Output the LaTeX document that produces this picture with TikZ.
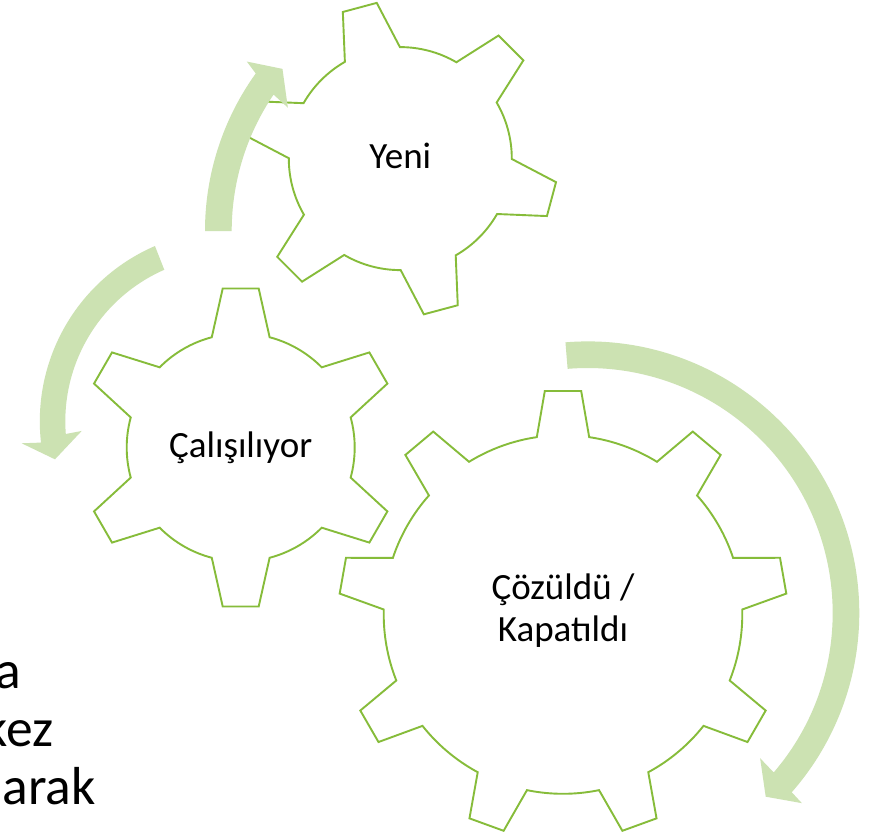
\documentclass[tikz,border=0pt]{standalone}
\usepackage{fontspec}
\setmainfont{Carlito}
\definecolor{geargreen}{RGB}{134,188,58}
\definecolor{arrowgreen}{RGB}{204,226,178}
\newcommand\drawgear[8]{%
  \pgfmathsetmacro\gearstep{360/#5}%
  \draw[gearline,shift={(#1,#2)}] ({#6-#8}:#4)
    \foreach \k in {1,...,#5}{
      -- ({#6+(\k-1)*\gearstep-#7}:#3)
      -- ({#6+(\k-1)*\gearstep+#7}:#3)
      -- ({#6+(\k-1)*\gearstep+#8}:#4)
      arc[start angle={#6+(\k-1)*\gearstep+#8}, end angle={#6+\k*\gearstep-#8}, radius=#4]
    } -- cycle;
}
\begin{document}
\begin{tikzpicture}[x=1pt,y=1pt,
  gearline/.style={draw=geargreen, line width=1.9pt, fill=white, line join=miter},
  arrowband/.style={fill=arrowgreen},
  lbl/.style={font=\fontsize{37}{44}\selectfont, anchor=base, inner sep=0pt, text=black},
  bodytext/.style={font=\fontsize{53.5}{58}\selectfont, anchor=base east, inner sep=0pt, text=black}]
\useasboundingbox (0,0) rectangle (892,-836);
\clip (0,0) rectangle (892,-836);
\fill[white] (0,0) rectangle (892,-836);

% gears
\drawgear{400.3}{-158.6}{157.5}{111.5}{6}{105}{6.4}{14.8}
\drawgear{240.7}{-447.5}{160}{114}{6}{90}{6.46}{14.7}
\drawgear{563}{-614.5}{224.3}{179.3}{9}{90}{4.65}{8.4}

% arrows
\fill[arrowband,shift={(475,-231)}] (180:270) arc[start angle=180,end angle=144.3,radius=270]
  -- (143.4:284.2) -- (139.9:251.7) -- (146.6:224.2) -- (145.9:243.3)
  arc[start angle=145.9,end angle=180,radius=243.3] -- cycle;
\fill[arrowband,shift={(230.8,-421.3)}] (113.4:191) arc[start angle=113.4,end angle=186.4,radius=191]
  -- (186:210.3) -- (192.2:179.9) -- (183.7:149.4) -- (184.4:165.5)
  arc[start angle=184.4,end angle=113.7,radius=165.5] -- cycle;
\fill[arrowband,shift={(587.7,-613)}] (94.7:271.6) arc[start angle=94.7,end angle=-41.3,radius=271.6]
  -- (-41.6:286.4) -- (-45.9:255.8) -- (-40.1:225.4) -- (-40.6:245)
  arc[start angle=-40.6,end angle=94.7,radius=245] -- cycle;

% labels
\node[lbl] (yeni) at (400.3,-168.3) {Yeni};
\node[lbl] (calis) at (240.7,-457.7) {Çalışılıyor};
\node[lbl] (cozul) at (563,-599.3) {Çözüldü /};
\node[lbl] (kapat) at (563,-641.7) {Kapatıldı};

% background slide text
\node[bodytext] (ta) at (21,-688.3) {a};
\node[bodytext] (tkez) at (53.5,-746.7) {kez};
\node[bodytext] (tarak) at (96,-804) {arak};
\end{tikzpicture}
\end{document}
